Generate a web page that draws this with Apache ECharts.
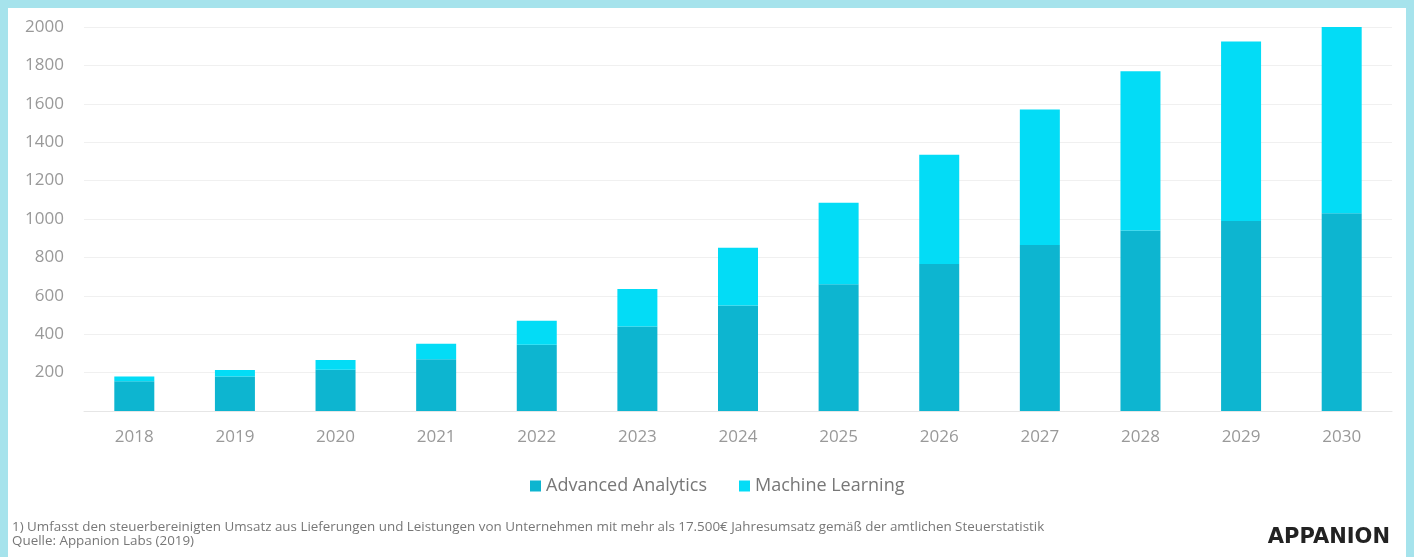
<!DOCTYPE html>
<html>
<head>
<meta charset="utf-8">
<script src="https://cdn.jsdelivr.net/npm/echarts@6/dist/echarts.min.js"></script>
<style>
  html, body { margin: 0; padding: 0; }
  .frame { width: 1414px; height: 557px; background: #a6e3ec; position: relative; overflow: hidden; }
  #chart { position: absolute; left: 8px; top: 8px; width: 1398px; height: 549px; background: #fff; }
</style>
</head>
<body>
<div class="frame"><div id="chart"></div></div>
<script>
const years = ['2018', '2019', '2020', '2021', '2022', '2023', '2024', '2025', '2026', '2027', '2028', '2029', '2030']
const advancedAnalytics = [155, 180, 215, 270, 345, 440, 550, 660, 765, 865, 940, 990, 1030]
const machineLearning = [25, 33, 50, 80, 125, 195, 300, 425, 570, 705, 830, 935, 970]
const footnote = '1) Umfasst den steuerbereinigten Umsatz aus Lieferungen und Leistungen von Unternehmen mit mehr als 17.500€ Jahresumsatz gemäß der amtlichen Steuerstatistik'
const source = 'Quelle: Appanion Labs (2019)'

const myChart = echarts.init(document.getElementById('chart'))
myChart.setOption({
  animation: false,
  textStyle: { fontFamily: 'Open Sans' },
  grid: { left: 76, right: 14, top: 19, bottom: 146 },
  legend: {
    bottom: 57,
    left: 517,
    icon: 'rect',
    itemWidth: 11,
    itemHeight: 11,
    itemGap: 32,
    textStyle: { fontSize: 18, color: '#777' },
    data: ['Advanced Analytics', 'Machine Learning']
  },
  xAxis: {
    type: 'category',
    data: years,
    axisTick: { show: false },
    axisLine: { lineStyle: { color: '#e6e6e6' } },
    axisLabel: { fontSize: 17, color: '#999', margin: 18 }
  },
  yAxis: {
    type: 'value',
    min: 0,
    max: 2000,
    interval: 200,
    axisLabel: {
      fontSize: 17,
      color: '#999',
      margin: 20,
      formatter: v => (v === 0 ? '' : v)
    },
    splitLine: { lineStyle: { color: '#f0f0f0' } }
  },
  series: [
    {
      name: 'Advanced Analytics',
      type: 'bar',
      stack: 'total',
      barWidth: 40,
      itemStyle: { color: '#0db5d0' },
      data: advancedAnalytics
    },
    {
      name: 'Machine Learning',
      type: 'bar',
      stack: 'total',
      barWidth: 40,
      itemStyle: { color: '#03dcf6' },
      data: machineLearning
    }
  ],
  graphic: [
    {
      type: 'text',
      left: 4,
      top: 513,
      style: { text: footnote, fontSize: 13.4, fill: '#777', fontFamily: 'Open Sans' }
    },
    {
      type: 'text',
      left: 4,
      top: 527,
      style: { text: source, fontSize: 13.4, fill: '#777', fontFamily: 'Open Sans' }
    },
    {
      type: 'text',
      right: 16,
      top: 519,
      style: { text: 'APPANION', fontSize: 21, fontWeight: 'bold', fill: '#222', fontFamily: 'DejaVu Sans' }
    }
  ]
})
</script>
</body>
</html>
